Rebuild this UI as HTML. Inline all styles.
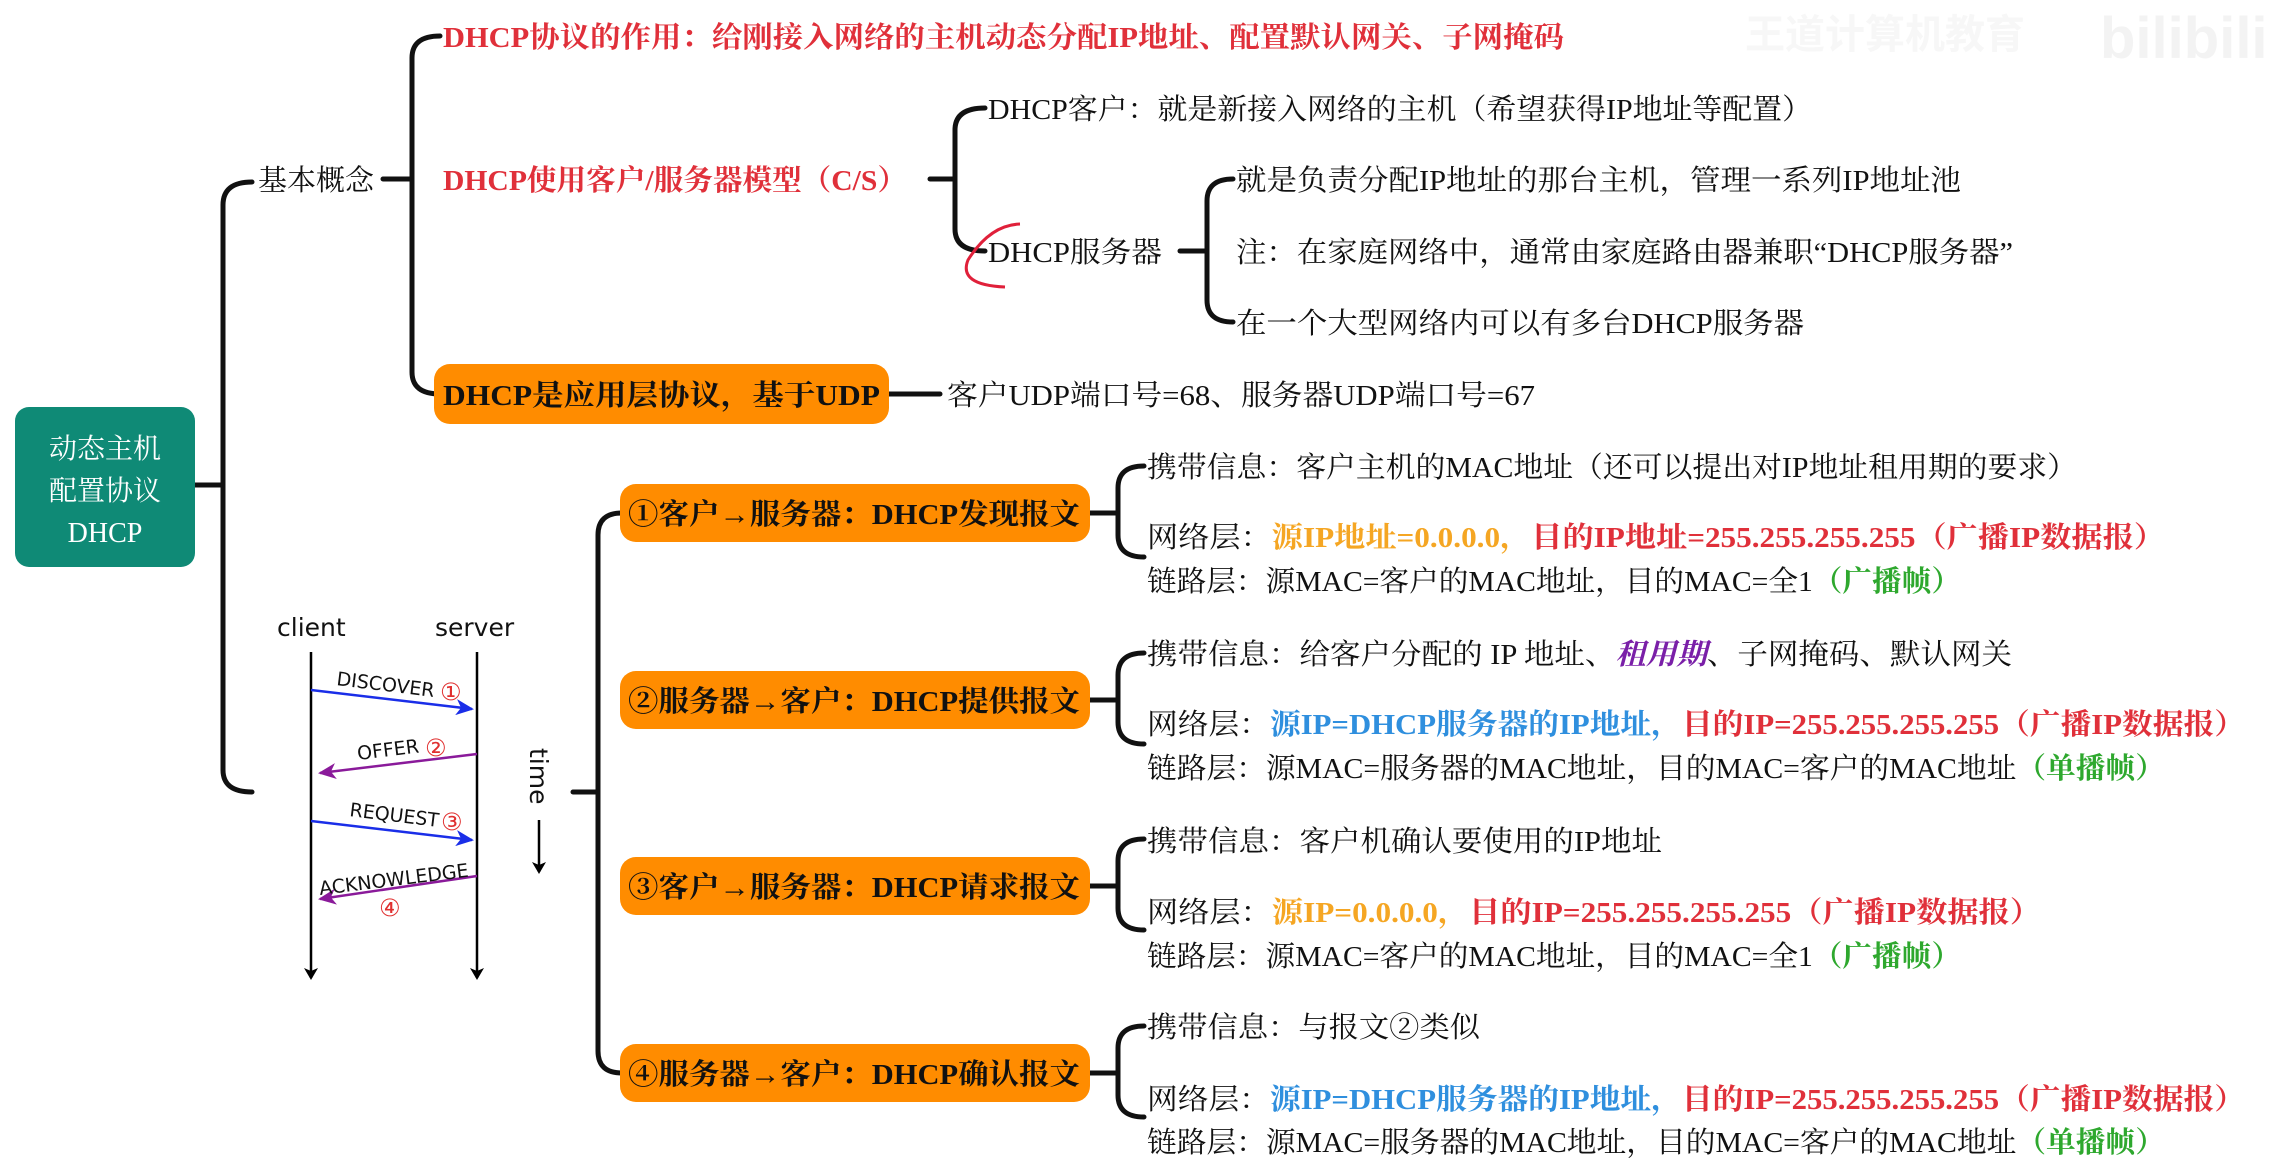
<!DOCTYPE html>
<html><head><meta charset="utf-8"><style>
html,body{margin:0;padding:0;background:#fff;}
svg{display:block}
.s{font-family:"Liberation Serif","Noto Serif CJK SC",serif;font-size:29px;fill:#111;}
.b{font-weight:bold}
.sans{font-family:"DejaVu Sans","Liberation Sans",sans-serif;}
.r{fill:#e0303a}.o{fill:#f5a623}.bl{fill:#2f8fde}.g{fill:#2ea82e}.p{fill:#7a1fa8}
</style></head><body>
<svg width="2274" height="1174" viewBox="0 0 2274 1174" xmlns="http://www.w3.org/2000/svg">
<defs>
<marker id="ak" markerWidth="12" markerHeight="14" refX="10" refY="7" orient="auto" markerUnits="userSpaceOnUse"><path d="M0,0 L12,7 L0,14 L3,7z" fill="#000"/></marker>
<marker id="ab" markerWidth="18" markerHeight="16" refX="16" refY="8" orient="auto" markerUnits="userSpaceOnUse"><path d="M0,0 L18,8 L0,16 L5,8z" fill="#1a2ee8"/></marker>
<marker id="ap" markerWidth="18" markerHeight="16" refX="16" refY="8" orient="auto" markerUnits="userSpaceOnUse"><path d="M0,0 L18,8 L0,16 L5,8z" fill="#8a1a9a"/></marker>
</defs>
<text x="1745" y="48" font-family="Liberation Sans,Noto Sans CJK SC,sans-serif" font-size="40" font-weight="bold" fill="#f7f7f7">王道计算机教育</text>
<text x="2100" y="58" font-family="Liberation Sans,sans-serif" font-size="58" font-weight="bold" fill="#f3f3f3">bilibili</text>

<g fill="none" stroke="#111" stroke-width="5" stroke-linecap="round">
<line x1="195" y1="485" x2="223" y2="485"/>
<path d="M252 182 Q223 182 223 205 L223 770 Q223 792 252 792"/>
<line x1="383" y1="179" x2="412" y2="179"/>
<path d="M440 36 Q412 36 412 58 L412 372 Q412 394 440 394"/>
<line x1="889" y1="394" x2="940" y2="394"/>
<line x1="930" y1="179" x2="955" y2="179"/>
<path d="M985 108 Q955 108 955 130 L955 229 Q955 251 985 251"/>
<line x1="1180" y1="251" x2="1207" y2="251"/>
<path d="M1233 179 Q1207 179 1207 201 L1207 300 Q1207 322 1233 322"/>
<line x1="573" y1="792" x2="598" y2="792"/>
<path d="M622 513 Q598 513 598 535 L598 1051 Q598 1073 622 1073"/>
<line x1="1090" y1="513" x2="1118" y2="513"/>
<path d="M1144 466 Q1118 466 1118 488 L1118 535 Q1118 557 1144 557"/>
<line x1="1090" y1="700" x2="1118" y2="700"/>
<path d="M1144 653 Q1118 653 1118 675 L1118 722 Q1118 744 1144 744"/>
<line x1="1090" y1="886" x2="1118" y2="886"/>
<path d="M1144 839 Q1118 839 1118 861 L1118 908 Q1118 930 1144 930"/>
<line x1="1090" y1="1073" x2="1118" y2="1073"/>
<path d="M1144 1026 Q1118 1026 1118 1048 L1118 1095 Q1118 1117 1144 1117"/>
</g>
<path d="M1020 224 Q990 225 968 260 Q958 285 1005 287" fill="none" stroke="#e0203a" stroke-width="3"/>

<rect x="15" y="407" width="180" height="160" rx="14" fill="#0f8a76"/>
<g class="s" style="fill:#fff;font-size:28px" text-anchor="middle">
<text x="105" y="458" style="fill:#fff">动态主机</text>
<text x="105" y="500" style="fill:#fff">配置协议</text>
<text x="105" y="542" style="fill:#fff">DHCP</text>
</g>

<g class="s">
<text x="258" y="190">基本概念</text>
<text x="443" y="47" class="b r" textLength="1121" lengthAdjust="spacingAndGlyphs">DHCP协议的作用：给刚接入网络的主机动态分配IP地址、配置默认网关、子网掩码</text>
<text x="443" y="190" class="b r" textLength="464" lengthAdjust="spacingAndGlyphs">DHCP使用客户/服务器模型（C/S）</text>
<rect x="434" y="364" width="455" height="60" rx="16" fill="#ff8c00"/>
<text x="443" y="405" class="b" textLength="437" lengthAdjust="spacingAndGlyphs">DHCP是应用层协议，基于UDP</text>
<text x="947" y="405" textLength="588" lengthAdjust="spacingAndGlyphs">客户UDP端口号=68、服务器UDP端口号=67</text>
<text x="988" y="119" textLength="824" lengthAdjust="spacingAndGlyphs">DHCP客户：就是新接入网络的主机（希望获得IP地址等配置）</text>
<text x="988" y="262" textLength="174" lengthAdjust="spacingAndGlyphs">DHCP服务器</text>
<text x="1236" y="190" textLength="725" lengthAdjust="spacingAndGlyphs">就是负责分配IP地址的那台主机，管理一系列IP地址池</text>
<text x="1236" y="262" textLength="777" lengthAdjust="spacingAndGlyphs">注：在家庭网络中，通常由家庭路由器兼职“DHCP服务器”</text>
<text x="1236" y="333" textLength="568" lengthAdjust="spacingAndGlyphs">在一个大型网络内可以有多台DHCP服务器</text>

<rect x="620" y="484" width="470" height="58" rx="16" fill="#ff8c00"/>
<rect x="620" y="671" width="470" height="58" rx="16" fill="#ff8c00"/>
<rect x="620" y="857" width="470" height="58" rx="16" fill="#ff8c00"/>
<rect x="620" y="1044" width="470" height="58" rx="16" fill="#ff8c00"/>
<text x="628" y="524" class="b" textLength="452" lengthAdjust="spacingAndGlyphs">①客户→服务器：DHCP发现报文</text>
<text x="628" y="711" class="b" textLength="452" lengthAdjust="spacingAndGlyphs">②服务器→客户：DHCP提供报文</text>
<text x="628" y="897" class="b" textLength="452" lengthAdjust="spacingAndGlyphs">③客户→服务器：DHCP请求报文</text>
<text x="628" y="1084" class="b" textLength="452" lengthAdjust="spacingAndGlyphs">④服务器→客户：DHCP确认报文</text>

<text x="1147" y="477" textLength="930" lengthAdjust="spacingAndGlyphs">携带信息：客户主机的MAC地址（还可以提出对IP地址租用期的要求）</text>
<text x="1147" y="547" textLength="1018" lengthAdjust="spacingAndGlyphs">网络层：<tspan class="b o">源IP地址=0.0.0.0，</tspan><tspan class="b r">目的IP地址=255.255.255.255（广播IP数据报）</tspan></text>
<text x="1147" y="591" textLength="814" lengthAdjust="spacingAndGlyphs">链路层：源MAC=客户的MAC地址，目的MAC=全1<tspan class="b g">（广播帧）</tspan></text>
<text x="1147" y="664" textLength="865" lengthAdjust="spacingAndGlyphs">携带信息：给客户分配的 IP 地址、<tspan class="b p" font-style="italic">租用期</tspan>、子网掩码、默认网关</text>
<text x="1147" y="734" textLength="1098" lengthAdjust="spacingAndGlyphs">网络层：<tspan class="b bl">源IP=DHCP服务器的IP地址，</tspan><tspan class="b r">目的IP=255.255.255.255（广播IP数据报）</tspan></text>
<text x="1147" y="778" textLength="1018" lengthAdjust="spacingAndGlyphs">链路层：源MAC=服务器的MAC地址，目的MAC=客户的MAC地址<tspan class="b g">（单播帧）</tspan></text>
<text x="1147" y="851" textLength="515" lengthAdjust="spacingAndGlyphs">携带信息：客户机确认要使用的IP地址</text>
<text x="1147" y="922" textLength="894" lengthAdjust="spacingAndGlyphs">网络层：<tspan class="b o">源IP=0.0.0.0，</tspan><tspan class="b r">目的IP=255.255.255.255（广播IP数据报）</tspan></text>
<text x="1147" y="966" textLength="814" lengthAdjust="spacingAndGlyphs">链路层：源MAC=客户的MAC地址，目的MAC=全1<tspan class="b g">（广播帧）</tspan></text>
<text x="1147" y="1037" textLength="333" lengthAdjust="spacingAndGlyphs">携带信息：与报文②类似</text>
<text x="1147" y="1109" textLength="1098" lengthAdjust="spacingAndGlyphs">网络层：<tspan class="b bl">源IP=DHCP服务器的IP地址，</tspan><tspan class="b r">目的IP=255.255.255.255（广播IP数据报）</tspan></text>
<text x="1147" y="1152" textLength="1018" lengthAdjust="spacingAndGlyphs">链路层：源MAC=服务器的MAC地址，目的MAC=客户的MAC地址<tspan class="b g">（单播帧）</tspan></text>
</g>

<g class="sans" font-size="25" fill="#111">
<text x="277" y="636">client</text>
<text x="435" y="636">server</text>
</g>
<g stroke="#000" stroke-width="2.5">
<line x1="311" y1="652" x2="311" y2="978" marker-end="url(#ak)"/>
<line x1="477" y1="652" x2="477" y2="978" marker-end="url(#ak)"/>
<line x1="539" y1="820" x2="539" y2="872" marker-end="url(#ak)"/>
</g>
<g stroke-width="2.5">
<line x1="311" y1="690" x2="472" y2="709" stroke="#1a2ee8" marker-end="url(#ab)"/>
<line x1="477" y1="754" x2="320" y2="773" stroke="#8a1a9a" marker-end="url(#ap)"/>
<line x1="311" y1="821" x2="472" y2="840" stroke="#1a2ee8" marker-end="url(#ab)"/>
<line x1="477" y1="876" x2="320" y2="899" stroke="#8a1a9a" marker-end="url(#ap)"/>
</g>
<g class="sans" font-size="19" fill="#111">
<text transform="translate(336,685) rotate(7)">DISCOVER</text>
<text transform="translate(358,760) rotate(-7)">OFFER</text>
<text transform="translate(349,816) rotate(7)">REQUEST</text>
<text transform="translate(320,895) rotate(-7)">ACKNOWLEDGE</text>
<text x="440" y="700" font-size="24" fill="#e03030">①</text>
<text x="425" y="756" font-size="24" fill="#e03030">②</text>
<text x="441" y="830" font-size="24" fill="#e03030">③</text>
<text x="379" y="916" font-size="24" fill="#e03030">④</text>
<text transform="translate(530,748) rotate(90)" font-size="25">time</text>
</g>
</svg>
</body></html>
